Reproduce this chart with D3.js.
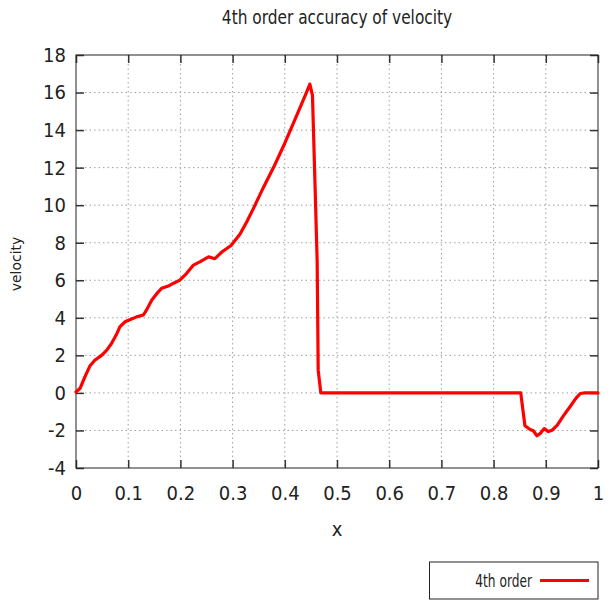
<!DOCTYPE html>
<html>
<head>
<meta charset="utf-8">
<script src="https://cdn.jsdelivr.net/npm/d3@7"></script>
<style>
  html, body { margin: 0; padding: 0; background: #fff; }
  svg { display: block; }
  .narrow { font-family: 'Liberation Sans Narrow', 'DejaVu Sans Condensed', 'Liberation Sans', sans-serif; font-stretch: condensed; }
</style>
</head>
<body>
<svg id="chart" width="616" height="602"></svg>
<script>
// Velocity profile sampled along x
const xValues = [0.000, 0.008, 0.017, 0.027, 0.036, 0.049, 0.059, 0.068, 0.077, 0.084,
  0.094, 0.103, 0.116, 0.129, 0.135, 0.145, 0.155, 0.164, 0.177, 0.186,
  0.199, 0.212, 0.225, 0.238, 0.254, 0.266, 0.280, 0.297, 0.314, 0.327,
  0.340, 0.360, 0.380, 0.400, 0.420, 0.440, 0.448, 0.453, 0.458, 0.462,
  0.464, 0.469, 0.500, 0.600, 0.700, 0.800, 0.852, 0.860, 0.870, 0.876,
  0.883, 0.889, 0.897, 0.905, 0.912, 0.922, 0.933, 0.946, 0.958, 0.966,
  0.975, 1.000];
const velocity = [0.05, 0.25, 0.85, 1.45, 1.74, 2.00, 2.28, 2.63, 3.08, 3.52,
  3.79, 3.90, 4.05, 4.15, 4.41, 4.94, 5.30, 5.57, 5.69, 5.83,
  6.01, 6.37, 6.81, 6.99, 7.25, 7.15, 7.52, 7.85, 8.45, 9.10,
  9.83, 11.0, 12.1, 13.3, 14.6, 15.9, 16.45, 15.85, 11.0, 7.0,
  1.2, 0.0, 0, 0, 0, 0, 0, -1.75, -1.95, -2.02,
  -2.28, -2.17, -1.90, -2.06, -1.99, -1.72, -1.25, -0.75, -0.28, -0.03,
  0, 0];

const xTicks = [0, 0.1, 0.2, 0.3, 0.4, 0.5, 0.6, 0.7, 0.8, 0.9, 1];
const yTicks = [-4, -2, 0, 2, 4, 6, 8, 10, 12, 14, 16, 18];
const seriesName = "4th order";

const svg = d3.select("#chart");
const plotL = 76, plotR = 598, plotT = 55, plotB = 468;

const x = d3.scaleLinear().domain([0, 1]).range([plotL, plotR]);
const y = d3.scaleLinear().domain([-4, 18]).range([plotB, plotT]);

// Dotted grid
const grid = svg.append("g").attr("stroke", "#a0a0a0").attr("stroke-width", 1)
  .attr("stroke-dasharray", "1.5,3");
grid.selectAll("line.gx").data(xTicks.filter(d => d > 0 && d < 1)).join("line")
  .attr("x1", d => x(d)).attr("x2", d => x(d)).attr("y1", plotT).attr("y2", plotB);
grid.selectAll("line.gy").data(yTicks.filter(d => d > -4 && d < 18)).join("line")
  .attr("x1", plotL).attr("x2", plotR).attr("y1", d => y(d)).attr("y2", d => y(d));

// Axes with inward ticks, mirrored on the opposite sides
const tickLen = 8;
const fmt = d => String(d);
const xAxisB = d3.axisBottom(x).tickValues(xTicks).tickSizeInner(-tickLen).tickSizeOuter(0).tickPadding(18).tickFormat(fmt);
const xAxisT = d3.axisTop(x).tickValues(xTicks).tickSizeInner(-tickLen).tickSizeOuter(0).tickFormat("");
const yAxisL = d3.axisLeft(y).tickValues(yTicks).tickSizeInner(-tickLen).tickSizeOuter(0).tickPadding(10).tickFormat(fmt);
const yAxisR = d3.axisRight(y).tickValues(yTicks).tickSizeInner(-tickLen).tickSizeOuter(0).tickFormat("");

function styleAxis(g) {
  g.select(".domain").remove();
  g.selectAll(".tick line").attr("stroke", "#333").attr("stroke-width", 1.5);
  g.selectAll(".tick text").attr("class", "narrow").attr("font-size", 20).attr("fill", "#222");
}
svg.append("g").attr("transform", `translate(0,${plotB})`).call(xAxisB).call(styleAxis);
svg.append("g").attr("transform", `translate(0,${plotT})`).call(xAxisT).call(styleAxis);
svg.append("g").attr("transform", `translate(${plotL},0)`).call(yAxisL).call(styleAxis);
svg.append("g").attr("transform", `translate(${plotR},0)`).call(yAxisR).call(styleAxis);

// Plot border
svg.append("rect").attr("x", plotL).attr("y", plotT).attr("width", plotR - plotL).attr("height", plotB - plotT)
  .attr("fill", "none").attr("stroke", "#222").attr("stroke-width", 1);

// Velocity curve
const pts = xValues.map((v, i) => [v, velocity[i]]);
const line = d3.line().x(d => x(d[0])).y(d => y(d[1])).curve(d3.curveLinear);
svg.append("path").datum(pts).attr("d", line)
  .attr("fill", "none").attr("stroke", "#ff0000").attr("stroke-width", 3.2)
  .attr("stroke-linejoin", "round").attr("stroke-linecap", "round");

// Titles (horizontally compressed lettering)
svg.append("text").attr("class", "narrow")
  .attr("transform", `translate(${(plotL + plotR) / 2},24) scale(0.9,1)`)
  .attr("text-anchor", "middle").attr("font-size", 19).attr("fill", "#222")
  .text("4th order accuracy of velocity");
svg.append("text").attr("class", "narrow").attr("x", (plotL + plotR) / 2).attr("y", 536)
  .attr("text-anchor", "middle").attr("font-size", 20).attr("fill", "#222").text("x");
svg.append("text").attr("transform", "translate(21,264) rotate(-90)")
  .attr("text-anchor", "middle").attr("font-family", "'DejaVu Sans', sans-serif")
  .attr("font-size", 14).attr("fill", "#222").text("velocity");

// Legend
const legend = svg.append("g");
legend.append("rect").attr("x", 429.5).attr("y", 562).attr("width", 168.5).attr("height", 37)
  .attr("fill", "#fff").attr("stroke", "#222").attr("stroke-width", 1);
legend.append("text").attr("class", "narrow")
  .attr("transform", "translate(532,587) scale(0.8,1)")
  .attr("text-anchor", "end").attr("font-size", 17).attr("fill", "#222").text(seriesName);
legend.append("line").attr("x1", 540).attr("x2", 589).attr("y1", 580.5).attr("y2", 580.5)
  .attr("stroke", "#ff0000").attr("stroke-width", 3.2);
</script>
</body>
</html>
